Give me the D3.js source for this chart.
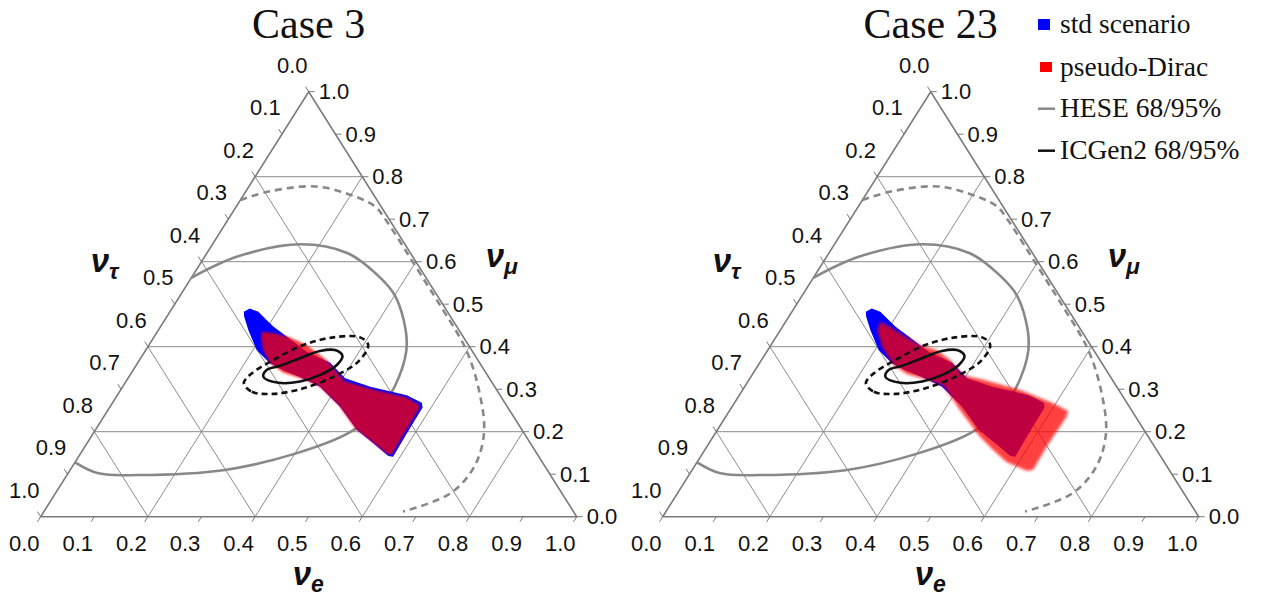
<!DOCTYPE html>
<html>
<head>
<meta charset="utf-8">
<script src="https://cdn.jsdelivr.net/npm/d3@7"></script>
<style>
  body { margin: 0; background: #fff; }
  svg { display: block; }
  .tick-label { font-family: "Liberation Sans", Arial, sans-serif; font-size: 22px; fill: #111; }
  .axis-name { font-family: "Liberation Sans", Arial, sans-serif; font-weight: bold; font-style: italic; fill: #111; }
  .title { font-family: "Liberation Serif", "Times New Roman", serif; font-size: 42px; fill: #111; }
  .legend-text { font-family: "Liberation Serif", "Times New Roman", serif; font-size: 27.5px; fill: #111; }
</style>
</head>
<body>
<div id="chart"></div>
<script>
// every point is [v_e, v_mu] ; v_tau = 1 - v_e - v_mu
var tick_values = [0, 0.1, 0.2, 0.3, 0.4, 0.5, 0.6, 0.7, 0.8, 0.9, 1.0];
var grid_values = [0.2, 0.4, 0.6, 0.8];
var titles = ["Case 3", "Case 23"];
var legend_labels = ["std scenario", "pseudo-Dirac", "HESE 68/95%", "ICGen2 68/95%"];

// HESE contours (gray)
var hese_68 = [[0.0, 0.562], [0.061, 0.612], [0.164, 0.641], [0.263, 0.620], [0.338, 0.573],
  [0.403, 0.518], [0.479, 0.408], [0.504, 0.329], [0.506, 0.251], [0.475, 0.196],
  [0.402, 0.149], [0.289, 0.110], [0.133, 0.098], [0.057, 0.102], [0.0, 0.128]];
var hese_95 = [[0.0, 0.745], [0.043, 0.765], [0.125, 0.777], [0.211, 0.753], [0.260, 0.729],
  [0.295, 0.698], [0.374, 0.620], [0.444, 0.550], [0.492, 0.502], [0.598, 0.392],
  [0.674, 0.290], [0.729, 0.196], [0.750, 0.118], [0.737, 0.055], [0.670, 0.012]];

// IceCube-Gen2 contours (black)
var icgen_68 = [[0.251, 0.329], [0.286, 0.315], [0.325, 0.318], [0.354, 0.333], [0.374, 0.357],
  [0.374, 0.378], [0.353, 0.392], [0.326, 0.390], [0.297, 0.373], [0.269, 0.355], [0.249, 0.345]];
var icgen_95 = [[0.222, 0.314], [0.247, 0.294], [0.290, 0.289], [0.339, 0.302], [0.381, 0.329],
  [0.410, 0.365], [0.409, 0.404], [0.385, 0.422], [0.335, 0.422], [0.288, 0.404],
  [0.250, 0.369], [0.225, 0.337]];

// allowed regions
var std_scenario = [[0.138, 0.482], [0.145, 0.490], [0.165, 0.482], [0.190, 0.463], [0.211, 0.447],
  [0.247, 0.424], [0.302, 0.388], [0.359, 0.362], [0.405, 0.326], [0.462, 0.306],
  [0.540, 0.286], [0.577, 0.268], [0.584, 0.257], [0.585, 0.196], [0.587, 0.141],
  [0.577, 0.143], [0.534, 0.173], [0.488, 0.204], [0.429, 0.259], [0.368, 0.306],
  [0.319, 0.329], [0.281, 0.344], [0.247, 0.361], [0.207, 0.392], [0.168, 0.439], [0.144, 0.471]];
var pseudo_dirac_case3 = [[0.195, 0.435], [0.218, 0.432], [0.254, 0.422], [0.294, 0.404], [0.349, 0.369],
  [0.408, 0.319], [0.464, 0.301], [0.541, 0.281], [0.574, 0.264], [0.579, 0.255],
  [0.580, 0.200], [0.582, 0.145], [0.572, 0.148], [0.529, 0.177], [0.482, 0.208],
  [0.424, 0.263], [0.364, 0.308], [0.321, 0.326], [0.283, 0.339], [0.247, 0.361],
  [0.219, 0.392], [0.201, 0.420]];
var pseudo_dirac_case23 = [[0.176, 0.459], [0.201, 0.447], [0.244, 0.422], [0.278, 0.404], [0.315, 0.392],
  [0.352, 0.369], [0.394, 0.333], [0.437, 0.322], [0.518, 0.298], [0.595, 0.267],
  [0.632, 0.249], [0.636, 0.235], [0.634, 0.165], [0.636, 0.110], [0.625, 0.108],
  [0.577, 0.129], [0.538, 0.157], [0.498, 0.188], [0.429, 0.251], [0.370, 0.308],
  [0.332, 0.322], [0.287, 0.336], [0.252, 0.357], [0.209, 0.400], [0.181, 0.439]];

var pseudo_dirac = [pseudo_dirac_case3, pseudo_dirac_case23];

var width = 1261, height = 598;
var tri_w = 536, tri_h = 425, base_y = 516.7;
var panel_left = [40.7, 662.7];
var fmt = d3.format(".1f");

var svg = d3.select("#chart").append("svg")
  .attr("width", width)
  .attr("height", height);

var defs = svg.append("defs");
defs.append("filter").attr("id", "soft").attr("x", "-10%").attr("y", "-10%")
  .attr("width", "120%").attr("height", "120%")
  .append("feGaussianBlur").attr("stdDeviation", 1.0);
defs.append("filter").attr("id", "soft-wide").attr("x", "-10%").attr("y", "-10%")
  .attr("width", "120%").attr("height", "120%")
  .append("feGaussianBlur").attr("stdDeviation", 1.6);
defs.append("filter").attr("id", "soft-blue")
  .append("feGaussianBlur").attr("stdDeviation", 0.6);
var red_filter = ["url(#soft)", "url(#soft-wide)"];

// unit vectors along the triangle sides
var side_len = Math.sqrt((tri_w / 2) * (tri_w / 2) + tri_h * tri_h);
var ux = (tri_w / 2) / side_len, uy = tri_h / side_len;

titles.forEach(function(title, i) {
  var left = panel_left[i];
  var xScale = d3.scaleLinear().domain([0, 1]).range([left, left + tri_w]);
  var yScale = d3.scaleLinear().domain([0, 1]).range([base_y, base_y - tri_h]);
  var px = function(p) { return xScale(p[0] + p[1] / 2); };
  var py = function(p) { return yScale(p[1]); };

  var g = svg.append("g");

  // grid
  var grid_lines = [];
  grid_values.forEach(function(v) {
    grid_lines.push([[0, v], [1 - v, v]]);      // const v_mu
    grid_lines.push([[v, 0], [v, 1 - v]]);      // const v_e
    grid_lines.push([[1 - v, 0], [0, 1 - v]]);  // const v_tau
  });
  var seg = d3.line().x(px).y(py);
  g.selectAll(".grid").data(grid_lines).enter().append("path")
    .attr("class", "grid")
    .attr("d", seg)
    .attr("fill", "none")
    .attr("stroke", "#8c8c8c")
    .attr("stroke-width", 1);

  // border
  g.append("path")
    .attr("d", d3.line().x(px).y(py).curve(d3.curveLinearClosed)([[0, 0], [1, 0], [0, 1]]))
    .attr("fill", "none")
    .attr("stroke", "#7a7a7a")
    .attr("stroke-width", 1.6);

  // ticks + labels
  var tk = 6;
  tick_values.forEach(function(t) {
    // bottom (v_e)
    var pb = [t, 0];
    g.append("line").attr("x1", px(pb)).attr("y1", py(pb))
      .attr("x2", px(pb) - ux * tk).attr("y2", py(pb) + uy * tk)
      .attr("stroke", "#7a7a7a").attr("stroke-width", 1);
    g.append("text").attr("class", "tick-label")
      .attr("x", px(pb) - 16.5).attr("y", py(pb) + 26.5).attr("dy", "0.35em")
      .attr("text-anchor", "middle").text(fmt(t));
    // right (v_mu)
    var pr = [1 - t, t];
    g.append("line").attr("x1", px(pr)).attr("y1", py(pr))
      .attr("x2", px(pr) + tk).attr("y2", py(pr))
      .attr("stroke", "#7a7a7a").attr("stroke-width", 1);
    g.append("text").attr("class", "tick-label")
      .attr("x", px(pr) + 10).attr("y", py(pr)).attr("dy", "0.35em")
      .attr("text-anchor", "start").text(fmt(t));
    // left (v_tau)
    var pl = [0, 1 - t];
    g.append("line").attr("x1", px(pl)).attr("y1", py(pl))
      .attr("x2", px(pl) - ux * tk).attr("y2", py(pl) - uy * tk)
      .attr("stroke", "#7a7a7a").attr("stroke-width", 1);
    g.append("text").attr("class", "tick-label")
      .attr("x", px(pl) - 16.5).attr("y", py(pl) - 26.5).attr("dy", "0.35em")
      .attr("text-anchor", "middle").text(fmt(t));
  });

  // axis names
  var names = [["τ", 50, 272], ["μ", 445, 267], ["e", 252, 585]];
  names.forEach(function(n) {
    var t = g.append("text").attr("class", "axis-name")
      .attr("x", left + n[1]).attr("y", n[2]).style("font-size", "33px");
    t.append("tspan").text("ν");
    t.append("tspan").attr("dy", 7).style("font-size", "23px").text(n[0]);
  });

  // title
  g.append("text").attr("class", "title")
    .attr("x", left + tri_w / 2).attr("y", 38)
    .attr("text-anchor", "middle").text(title);

  var open = d3.line().x(px).y(py).curve(d3.curveCatmullRom.alpha(0.5));
  var closed = d3.line().x(px).y(py).curve(d3.curveCatmullRomClosed.alpha(0.5));
  var poly = d3.line().x(px).y(py).curve(d3.curveLinearClosed);

  // HESE under the regions
  g.append("path").attr("d", open(hese_95))
    .attr("fill", "none").attr("stroke", "#888").attr("stroke-width", 2.6)
    .attr("stroke-dasharray", "7,5");
  g.append("path").attr("d", open(hese_68))
    .attr("fill", "none").attr("stroke", "#888").attr("stroke-width", 2.6);

  // regions
  g.append("path").attr("d", poly(std_scenario))
    .attr("fill", "#0000ff").attr("filter", "url(#soft-blue)");
  g.append("path").attr("d", poly(pseudo_dirac[i]))
    .attr("fill", "#ff0000").attr("fill-opacity", 0.75).attr("filter", red_filter[i]);

  // ICGen2 on top
  g.append("path").attr("d", closed(icgen_95))
    .attr("fill", "none").attr("stroke", "#111").attr("stroke-width", 2.6)
    .attr("stroke-dasharray", "6,4");
  g.append("path").attr("d", closed(icgen_68))
    .attr("fill", "none").attr("stroke", "#111").attr("stroke-width", 2.6);
});

// legend
var legend = svg.append("g");
var leg_y = [33, 76, 117, 159];
legend.selectAll(".legend-text").data(legend_labels).enter().append("text")
  .attr("class", "legend-text")
  .attr("x", 1060)
  .attr("y", function(d, i) { return leg_y[i]; })
  .text(function(d) { return d; });
legend.append("rect").attr("x", 1038).attr("y", 19).attr("width", 12).attr("height", 11).attr("fill", "#0000ff");
legend.append("rect").attr("x", 1040).attr("y", 62).attr("width", 12).attr("height", 10).attr("fill", "#ff0000");
legend.append("line").attr("x1", 1038).attr("x2", 1055).attr("y1", 108.7).attr("y2", 108.7)
  .attr("stroke", "#888").attr("stroke-width", 2.5);
legend.append("line").attr("x1", 1038).attr("x2", 1055).attr("y1", 150.7).attr("y2", 150.7)
  .attr("stroke", "#111").attr("stroke-width", 2.5);
</script>
</body>
</html>
